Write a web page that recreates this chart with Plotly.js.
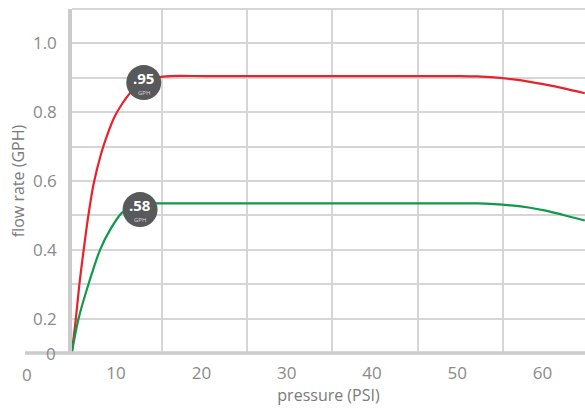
<!DOCTYPE html>
<html>
<head>
<meta charset="utf-8">
<script src="https://cdn.plot.ly/plotly-3.0.1.min.js"></script>
<style>html,body{margin:0;padding:0;background:#fff;}#chart{width:585px;height:409px;}</style>
</head>
<body>
<div id="chart"></div>
<script>
// pressure (PSI) and flow rate (GPH)
var redX   = [4.45, 4.92, 5.34, 5.85, 6.40, 7.00, 7.90, 8.70, 9.50, 10.40, 11.30, 12.20, 13.20, 14.50, 16.0, 20, 30, 40, 50, 52.0, 54.0, 56.0, 58.0, 60.0, 62.0, 64.6];
var redY   = [0.10, 0.197, 0.299, 0.400, 0.500, 0.590, 0.680, 0.740, 0.788, 0.826, 0.856, 0.876, 0.891, 0.901, 0.905, 0.905, 0.905, 0.905, 0.905, 0.904, 0.901, 0.896, 0.889, 0.880, 0.870, 0.855];
var greenX = [4.45, 5.22, 6.40, 7.77, 8.94, 10.35, 11.50, 12.60, 13.80, 15.0, 20, 30, 40, 50, 52.0, 54.0, 56.0, 58.0, 60.0, 62.0, 64.6];
var greenY = [0.10, 0.197, 0.299, 0.400, 0.458, 0.508, 0.524, 0.532, 0.535, 0.535, 0.535, 0.535, 0.535, 0.535, 0.535, 0.533, 0.529, 0.523, 0.514, 0.502, 0.485];

var badgeX = [12.89, 12.46];
var badgeY = [0.886, 0.517];
var badgeText = ['.95', '.58'];

var xTickVals = [10, 20, 30, 40, 50, 60];
var xTickText = ['10', '20', '30', '40', '50', '60'];
var xGridVals = [15, 25, 35, 45, 55];
var yTickVals = [0.2, 0.3, 0.4, 0.5, 0.6, 0.7, 0.8, 0.9, 1.0, 1.1];
var yTickText = ['0.2', '', '0.4', '', '0.6', '', '0.8', '', '1.0', ''];

var FONT = '"Open Sans", "Noto Sans", sans-serif';
var GRID = '#d6d6d6';
var AXIS = '#cbcbcb';
var TICKC = '#8a8a8a';

var traces = [
  {x: redX, y: redY, mode: 'lines', line: {color: '#e8212b', width: 2.2, shape: 'spline', smoothing: 0.8}, hoverinfo: 'skip'},
  {x: greenX, y: greenY, mode: 'lines', line: {color: '#0e9a4a', width: 2.2, shape: 'spline', smoothing: 0.8}, hoverinfo: 'skip'},
  {x: badgeX, y: badgeY, mode: 'markers', marker: {size: 35, color: '#58595b', line: {width: 0}}, hoverinfo: 'skip', cliponaxis: false},
  {x: [], y: [], xaxis: 'x2', yaxis: 'y', mode: 'markers'}
];

var annotations = [];
for (var i = 0; i < badgeX.length; i++) {
  annotations.push({x: badgeX[i], y: badgeY[i], xref: 'x', yref: 'y', text: '<b>' + badgeText[i] + '</b>', showarrow: false,
    font: {family: FONT, size: 15, color: '#ffffff'}, xanchor: 'center', yanchor: 'middle', yshift: 5, borderpad: 0});
  annotations.push({x: badgeX[i], y: badgeY[i], xref: 'x', yref: 'y', text: 'GPH', showarrow: false,
    font: {family: FONT, size: 6, color: '#d8d8d8'}, xanchor: 'center', yanchor: 'middle', yshift: -10.5, borderpad: 0});
}
annotations.push({x: -0.027, y: 0, xref: 'paper', yref: 'paper', text: '0', showarrow: false,
  font: {family: FONT, size: 17, color: TICKC}, xanchor: 'right', yanchor: 'middle'});
annotations.push({x: -0.088, y: 0, xref: 'paper', yref: 'paper', text: '0', showarrow: false,
  font: {family: FONT, size: 17, color: TICKC}, xanchor: 'center', yanchor: 'middle', yshift: -21});

var layout = {
  width: 585, height: 409,
  margin: {l: 72, r: 0, t: 9, b: 56, pad: 0},
  paper_bgcolor: '#ffffff', plot_bgcolor: '#ffffff',
  showlegend: false,
  font: {family: FONT, color: TICKC},
  xaxis: {
    range: [4.48, 64.62], tickmode: 'array', tickvals: xTickVals, ticktext: xTickText,
    showgrid: false, zeroline: false, showline: false, ticks: '', ticklabelstandoff: 8, ticklabelshift: -3,
    tickfont: {family: FONT, size: 17, color: TICKC},
    title: {text: 'pressure (PSI)', font: {family: FONT, size: 16, color: '#7a7a7a'}, standoff: 4}
  },
  xaxis2: {
    overlaying: 'x', matches: 'x', range: [4.48, 64.62], tickmode: 'array', tickvals: xGridVals,
    showticklabels: false, showgrid: true, gridcolor: GRID, gridwidth: 2, zeroline: false, showline: false, ticks: ''
  },
  yaxis: {
    range: [0.1, 1.1], tickmode: 'array', tickvals: yTickVals, ticktext: yTickText,
    showgrid: true, gridcolor: GRID, gridwidth: 2, zeroline: false,
    showline: true, linecolor: AXIS, linewidth: 3.5, ticks: '', ticklabelstandoff: 8,
    tickfont: {family: FONT, size: 17, color: TICKC},
    title: {text: 'flow rate (GPH)', font: {family: FONT, size: 16, color: '#7a7a7a'}, standoff: 5}
  },
  shapes: [
    {type: 'line', xref: 'paper', yref: 'paper', x0: -0.0915, x1: 1, y0: 0, y1: 0, line: {color: AXIS, width: 3.5}, layer: 'above'},
    {type: 'line', xref: 'paper', yref: 'paper', x0: 0, x1: 1, y0: 1, y1: 1, line: {color: GRID, width: 2}, layer: 'below'}
  ],
  annotations: annotations
};

Plotly.newPlot('chart', traces, layout, {displayModeBar: false});
</script>
</body>
</html>
